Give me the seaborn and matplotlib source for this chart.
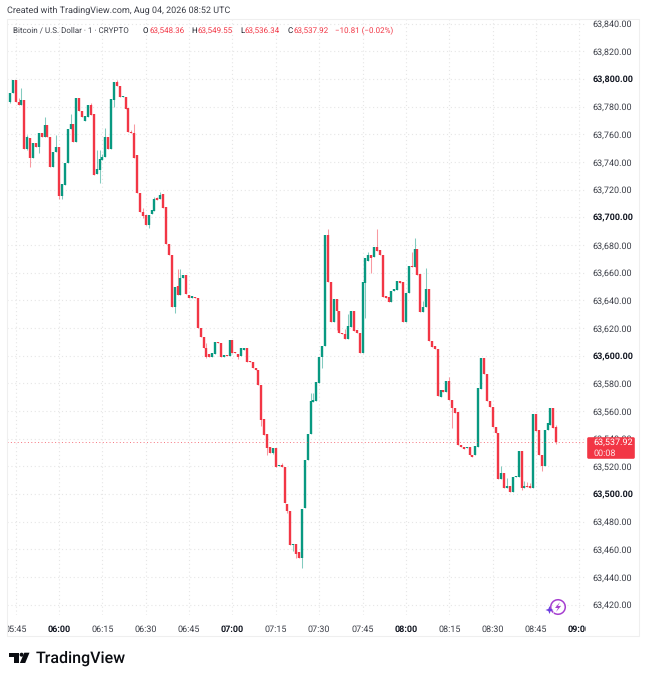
import matplotlib
matplotlib.use("Agg")
import matplotlib.pyplot as plt
import pandas as pd
import seaborn as sns
from matplotlib.patches import Circle, FancyBboxPatch, Polygon, Arc, Rectangle
from matplotlib.transforms import Bbox

# candles, one per minute, minute 0 is 06:00
minutes = list(range(-17, 173))

opens = [
    63783.6, 63790.1, 63799.3, 63783.6, 63781.0, 63784.8, 63749.4, 63757.1, 63742.6, 63753.5,
    63750.6, 63761.2, 63757.8, 63766.5, 63757.8, 63736.6, 63747.0, 63751.1, 63715.6, 63723.1,
    63739.0, 63763.6, 63767.5, 63754.2, 63786.0, 63777.1, 63769.9, 63772.8, 63781.2, 63774.7,
    63731.3, 63734.2, 63741.4, 63743.3, 63758.3, 63749.4, 63784.8, 63798.1, 63795.0, 63787.2,
    63787.2, 63778.8, 63761.9, 63761.2, 63745.0, 63717.3, 63704.1, 63701.7, 63694.4, 63702.4,
    63704.8, 63713.7, 63713.0, 63716.8, 63707.2, 63680.5, 63673.0, 63634.9, 63650.3, 63643.6,
    63656.4, 63658.0, 63643.8, 63641.9, 63642.6, 63641.4, 63620.2, 63613.2, 63605.8, 63600.9,
    63598.8, 63601.2, 63610.1, 63608.9, 63599.2, 63600.2, 63599.7, 63611.3, 63602.9, 63601.2,
    63599.7, 63604.1, 63605.3, 63596.3, 63595.6, 63591.3, 63589.6, 63578.8, 63554.2, 63543.1,
    63534.2, 63529.9, 63533.0, 63520.2, 63520.9, 63519.7, 63492.5, 63487.7, 63463.1, 63464.1,
    63458.0, 63453.5, 63490.1, 63524.6, 63543.1, 63566.7, 63567.5, 63580.5, 63598.8, 63607.2,
    63687.3, 63653.0, 63624.6, 63641.0, 63632.5, 63616.6, 63615.4, 63612.3, 63621.0, 63632.5,
    63618.6, 63616.6, 63601.7, 63652.3, 63668.7, 63672.8, 63671.1, 63678.8, 63676.4, 63672.8,
    63643.1, 63642.2, 63639.1, 63647.0, 63647.5, 63654.0, 63653.3, 63624.6, 63645.1, 63664.8,
    63664.4, 63677.1, 63659.1, 63631.8, 63635.0, 63648.2, 63610.9, 63607.0, 63604.8, 63570.4,
    63575.2, 63574.0, 63581.9, 63567.9, 63562.3, 63559.0, 63535.4, 63534.2, 63532.9, 63533.7,
    63528.1, 63528.1, 63534.2, 63575.8, 63598.3, 63586.7, 63567.4, 63563.1, 63548.6, 63543.8,
    63510.8, 63515.4, 63504.0, 63505.7, 63501.1, 63512.0, 63512.0, 63531.0, 63504.0, 63505.7,
    63505.7, 63504.0, 63557.5, 63546.2, 63528.1, 63520.2, 63546.2, 63549.8, 63562.3, 63548.36,
]
closes = [
    63790.1, 63799.3, 63783.6, 63781.0, 63784.8, 63749.4, 63757.8, 63743.1, 63753.5, 63751.1,
    63760.7, 63758.3, 63766.5, 63757.8, 63736.6, 63747.4, 63751.1, 63715.6, 63724.1, 63739.0,
    63764.1, 63767.5, 63754.2, 63786.0, 63777.1, 63772.3, 63773.2, 63781.2, 63774.0, 63730.6,
    63734.9, 63741.9, 63743.8, 63758.3, 63749.4, 63785.5, 63798.1, 63795.0, 63787.2, 63788.0,
    63778.3, 63761.4, 63761.2, 63743.1, 63717.3, 63703.6, 63701.2, 63694.4, 63701.7, 63705.3,
    63713.2, 63712.5, 63716.1, 63706.5, 63680.5, 63673.0, 63634.9, 63649.4, 63643.6, 63656.4,
    63658.3, 63644.3, 63641.9, 63643.4, 63641.4, 63620.2, 63613.2, 63605.3, 63599.2, 63598.8,
    63602.1, 63609.6, 63608.9, 63599.2, 63600.4, 63599.7, 63611.3, 63602.1, 63601.7, 63598.8,
    63605.3, 63605.3, 63595.6, 63595.6, 63590.8, 63589.6, 63578.8, 63553.5, 63542.6, 63533.0,
    63529.9, 63533.5, 63519.7, 63521.2, 63519.7, 63493.2, 63487.7, 63463.1, 63464.1, 63456.6,
    63453.5, 63489.1, 63524.6, 63543.4, 63567.2, 63567.9, 63581.2, 63598.8, 63607.2, 63687.3,
    63653.0, 63624.6, 63641.0, 63632.5, 63616.6, 63615.4, 63612.3, 63621.5, 63632.5, 63618.1,
    63616.2, 63601.7, 63653.0, 63670.9, 63672.8, 63670.4, 63678.8, 63675.9, 63672.8, 63642.7,
    63641.7, 63639.1, 63647.0, 63648.0, 63654.0, 63652.8, 63624.6, 63645.6, 63664.8, 63664.4,
    63677.1, 63658.3, 63631.8, 63635.4, 63648.2, 63610.9, 63606.5, 63604.6, 63571.1, 63575.2,
    63574.0, 63581.9, 63568.0, 63561.9, 63558.7, 63535.4, 63533.7, 63532.5, 63534.2, 63528.1,
    63526.9, 63534.6, 63576.3, 63598.3, 63586.7, 63567.4, 63562.6, 63548.1, 63543.8, 63510.8,
    63515.4, 63504.0, 63505.7, 63501.1, 63512.5, 63513.2, 63531.0, 63504.0, 63505.7, 63504.8,
    63504.0, 63557.5, 63545.5, 63528.1, 63520.2, 63546.2, 63551.0, 63562.3, 63547.4, 63537.92,
]
highs = [
    63790.1, 63799.3, 63799.3, 63786.0, 63793.2, 63784.8, 63759.5, 63757.1, 63753.5, 63753.5,
    63760.7, 63761.2, 63772.3, 63766.5, 63757.8, 63747.4, 63759.5, 63751.1, 63724.1, 63739.0,
    63764.1, 63774.4, 63767.5, 63786.0, 63786.0, 63777.1, 63773.2, 63781.2, 63782.9, 63774.7,
    63748.7, 63748.7, 63745.8, 63764.3, 63758.3, 63785.5, 63798.1, 63799.3, 63795.0, 63788.0,
    63787.2, 63778.8, 63763.1, 63767.2, 63745.0, 63717.3, 63707.0, 63701.7, 63701.7, 63705.3,
    63714.9, 63714.9, 63718.0, 63716.8, 63707.2, 63680.5, 63673.0, 63649.4, 63662.6, 63662.6,
    63658.3, 63658.0, 63643.8, 63643.4, 63642.6, 63641.4, 63620.2, 63613.2, 63608.9, 63600.9,
    63602.1, 63609.6, 63610.1, 63608.9, 63600.4, 63600.2, 63611.3, 63611.3, 63602.9, 63601.2,
    63605.3, 63605.3, 63605.3, 63596.3, 63595.6, 63591.3, 63589.6, 63578.8, 63554.2, 63543.1,
    63534.2, 63533.5, 63533.0, 63521.2, 63522.6, 63519.7, 63492.5, 63487.7, 63464.1, 63464.1,
    63458.0, 63489.1, 63524.6, 63543.4, 63572.8, 63572.8, 63581.2, 63598.8, 63607.2, 63687.3,
    63691.4, 63653.0, 63641.0, 63641.0, 63632.5, 63616.6, 63619.0, 63629.9, 63632.5, 63632.5,
    63618.6, 63616.6, 63653.0, 63670.9, 63675.2, 63672.8, 63678.8, 63691.4, 63676.4, 63672.8,
    63643.1, 63642.2, 63647.0, 63648.0, 63654.0, 63654.0, 63653.3, 63645.6, 63664.8, 63675.2,
    63684.8, 63677.1, 63659.1, 63639.5, 63663.2, 63648.2, 63610.9, 63607.0, 63604.8, 63575.2,
    63575.2, 63581.9, 63584.8, 63567.9, 63562.3, 63559.0, 63535.4, 63534.2, 63534.2, 63533.7,
    63528.1, 63534.6, 63576.3, 63598.3, 63598.3, 63586.7, 63567.4, 63563.1, 63548.6, 63543.8,
    63520.2, 63515.4, 63511.2, 63505.7, 63512.5, 63513.2, 63531.0, 63531.0, 63509.6, 63508.8,
    63507.6, 63557.5, 63557.5, 63546.2, 63528.1, 63546.2, 63551.0, 63562.3, 63562.3, 63549.55,
]
lows = [
    63782.4, 63790.1, 63783.6, 63781.0, 63781.0, 63749.4, 63748.7, 63736.6, 63742.6, 63751.1,
    63746.2, 63758.3, 63757.8, 63757.8, 63736.6, 63736.6, 63747.0, 63713.0, 63713.0, 63723.1,
    63739.0, 63763.6, 63754.2, 63754.2, 63777.1, 63772.3, 63769.9, 63772.8, 63774.0, 63730.6,
    63731.3, 63724.6, 63741.4, 63743.3, 63749.4, 63749.4, 63780.0, 63795.0, 63787.2, 63787.2,
    63778.3, 63761.4, 63761.2, 63743.1, 63717.3, 63703.6, 63699.7, 63694.4, 63692.0, 63702.4,
    63704.8, 63712.5, 63713.0, 63706.5, 63680.5, 63673.0, 63634.9, 63630.6, 63643.6, 63643.6,
    63656.4, 63644.3, 63641.9, 63641.9, 63641.4, 63620.2, 63613.2, 63605.3, 63598.0, 63598.8,
    63598.8, 63601.2, 63608.9, 63599.2, 63599.2, 63599.7, 63599.7, 63602.1, 63601.7, 63597.6,
    63599.7, 63604.1, 63595.6, 63595.6, 63590.8, 63589.6, 63578.8, 63549.4, 63542.6, 63528.2,
    63529.9, 63528.9, 63519.7, 63520.2, 63519.7, 63493.2, 63486.0, 63463.1, 63458.8, 63453.9,
    63453.5, 63446.7, 63490.1, 63524.6, 63543.1, 63566.7, 63567.5, 63580.5, 63591.3, 63607.2,
    63653.0, 63624.6, 63624.6, 63618.6, 63616.6, 63615.4, 63612.3, 63612.3, 63621.0, 63618.1,
    63616.2, 63601.7, 63601.7, 63627.0, 63668.7, 63660.0, 63671.1, 63675.9, 63672.8, 63642.7,
    63641.7, 63639.1, 63639.1, 63647.0, 63647.5, 63652.8, 63624.6, 63624.6, 63645.1, 63664.4,
    63664.4, 63658.3, 63631.8, 63631.8, 63635.0, 63610.9, 63606.5, 63604.6, 63571.1, 63570.4,
    63574.0, 63574.0, 63568.0, 63547.4, 63558.7, 63535.4, 63533.7, 63532.5, 63532.9, 63528.1,
    63526.9, 63528.1, 63534.2, 63575.8, 63586.7, 63567.4, 63562.6, 63548.1, 63543.8, 63510.8,
    63510.8, 63504.0, 63504.0, 63501.1, 63501.1, 63512.0, 63512.0, 63502.8, 63504.0, 63504.8,
    63504.0, 63504.0, 63545.5, 63528.1, 63516.8, 63520.2, 63546.2, 63549.8, 63547.4, 63536.34,
]

price_ticks = [63420, 63440, 63460, 63480, 63500, 63520, 63540, 63560, 63580, 63600, 63620,
               63640, 63660, 63680, 63700, 63720, 63740, 63760, 63780, 63800, 63820, 63840]
time_ticks = [-15, 0, 15, 30, 45, 60, 75, 90, 105, 120, 135, 150, 165, 180]
time_labels = ["05:45", "06:00", "06:15", "06:30", "06:45", "07:00", "07:15", "07:30",
               "07:45", "08:00", "08:15", "08:30", "08:45", "09:00"]
last_price = 63537.92

UP = "#089981"
DOWN = "#F23645"
TEXT = "#131722"
W, H = 646, 680

sns.set_theme(style="white", rc={"axes.edgecolor": "white"})
plt.rcParams["font.family"] = ["Roboto", "DejaVu Sans"]
plt.rcParams["text.hinting"] = "no_hinting"
plt.rcParams["text.hinting_factor"] = 1

df = pd.DataFrame({"minute": minutes, "open": opens, "high": highs, "low": lows, "close": closes})
df["side"] = ["up" if c >= o else "down" for o, c in zip(df["open"], df["close"])]

bodies = df.melt(id_vars=["minute", "side"], value_vars=["open", "close"], value_name="price")
wicks = df.melt(id_vars=["minute", "side"], value_vars=["low", "high"], value_name="price")

fig = plt.figure(figsize=(W / 100, H / 100), dpi=100)
# chart pane spans x 7..586 and y 19..615 in picture pixels
ax = fig.add_axes([7 / W, 1 - 615 / H, 579 / W, 596 / H])

palette = {"up": UP, "down": DOWN}
sns.lineplot(data=wicks, x="minute", y="price", units="minute", hue="side", palette=palette,
             estimator=None, sort=False, legend=False, ax=ax, lw=0.75, alpha=0.5,
             solid_capstyle="butt")
sns.lineplot(data=bodies, x="minute", y="price", units="minute", hue="side", palette=palette,
             estimator=None, sort=False, legend=False, ax=ax, lw=1.7,
             solid_capstyle="butt")

ax.set_xlim(-18, 182.3)
ax.set_ylim(63412.5, 63843.4)
ax.set_xlabel("")
ax.set_ylabel("")
ax.grid(True, color="#e6e6e6", lw=0.8, ls=(0, (1, 2.5)))
ax.set_axisbelow(True)
ax.axhline(last_price, color=DOWN, lw=0.7, ls=(0, (1, 2.5)), alpha=0.7)

ax.set_xticks(time_ticks)
ax.set_xticklabels(time_labels)
ax.set_yticks(price_ticks)
ax.set_yticklabels([f"{p:,.2f}" for p in price_ticks])
ax.yaxis.tick_right()
ax.tick_params(axis="both", length=0, labelsize=6.3, labelcolor="#3c3f48")
ax.tick_params(axis="x", pad=7.2)
ax.tick_params(axis="y", pad=4.4)
for lab in ax.get_yticklabels():
    lab.set_ha("left")
    if lab.get_text() in ["63,500.00", "63,600.00", "63,700.00", "63,800.00"]:
        lab.set_fontweight("bold")
        lab.set_color(TEXT)
# the first and last time labels are cut by the pane edge
label_clip = Bbox([[7, 0], [586, H]])
for lab in ax.get_xticklabels():
    lab.set_clip_on(True)
    lab.set_clip_box(label_clip)
    if lab.get_text().endswith(":00"):
        lab.set_fontweight("bold")
        lab.set_color(TEXT)
for s in ax.spines.values():
    s.set_visible(False)

# everything around the pane sits on an overlay in picture pixels
over = fig.add_axes([0, 0, 1, 1], zorder=5)
over.set_xlim(0, W)
over.set_ylim(H, 0)
over.axis("off")
over.patch.set_alpha(0)

over.add_patch(Rectangle((7.3, 19), 631.4, 617, fill=False, ec="#efefef", lw=0.8))

over.text(7, 11, "Created with TradingView.com, Aug 04, 2026 08:52 UTC", fontsize=6.45,
          color="#3c3f48", va="center")
over.text(13, 30.5, "Bitcoin / U.S. Dollar · 1 · CRYPTO", fontsize=6.05, color="#3c3f48", va="center")
for x, s, col in [(143, "O", TEXT), (149, "63,548.36", DOWN), (191, "H", TEXT), (197, "63,549.55", DOWN),
                  (240, "L", TEXT), (244, "63,536.34", DOWN), (287.5, "C", TEXT), (293, "63,537.92", DOWN),
                  (335, "−10.81 (−0.02%)", DOWN)]:
    over.text(x, 30.5, s, fontsize=6.0, color=col, va="center")

# last price tag
over.add_patch(FancyBboxPatch((588, 438), 46, 20, boxstyle="round,pad=0.8,rounding_size=1.5",
                              fc=DOWN, ec="none"))
over.text(593, 442.5, "63,537.92", fontsize=6.3, color="white", va="center")
over.text(593, 453, "00:08", fontsize=6.3, color="#fde3e5", va="center")

# bolt icon
over.add_patch(Arc((558, 607), 14.5, 14.5, theta1=-230, theta2=125, color="#a63fd0", lw=1.1))
over.add_patch(Polygon([(560, 602), (555, 608), (558, 608), (556, 612), (561, 606), (558, 606)],
                       closed=True, fc="#a63fd0", ec="none"))
over.add_patch(Polygon([(549.5, 606), (550.6, 608.9), (553.5, 610), (550.6, 611.1), (549.5, 614),
                        (548.4, 611.1), (545.5, 610), (548.4, 608.9)], closed=True, fc="#6d3fe0", ec="none"))

# TradingView mark and name
over.add_patch(Polygon([(8.7, 652.7), (19, 652.7), (19, 663), (13.5, 663), (13.5, 656.6), (8.7, 656.6)],
                       closed=True, fc="#0b0d12", ec="none"))
over.add_patch(Circle((21.6, 654.7), 2.0, fc="#0b0d12", ec="none"))
over.add_patch(Polygon([(24.3, 652.7), (29.5, 652.7), (25.2, 663), (19.9, 663)],
                       closed=True, fc="#0b0d12", ec="none"))
over.text(35.5, 658.3, "TradingView", fontsize=11.3, fontweight="medium", color="#0b0d12", va="center")

fig.savefig("out.png", dpi=100, facecolor="white")
